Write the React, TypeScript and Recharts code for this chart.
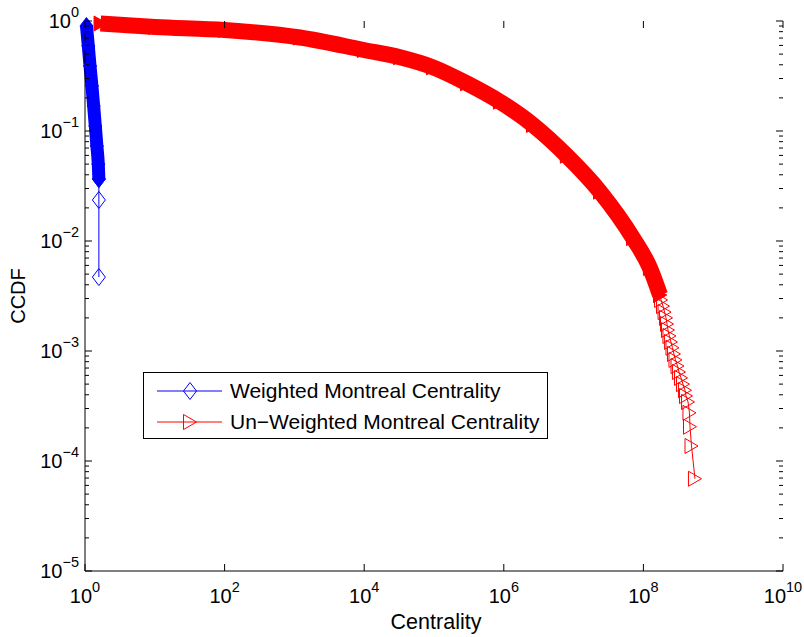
import { LineChart, Line, XAxis, YAxis, Legend } from 'recharts'

// weighted graph: centrality vs CCDF
const weightedCentrality = [1.05, 1.115, 1.18, 1.256, 1.33, 1.405, 1.48, 1.55, 1.58, 1.58, 1.58]
const weightedCcdf = [0.9, 0.593, 0.39, 0.257, 0.169, 0.111, 0.073, 0.05, 0.0366, 0.0236, 0.0047]
const WEIGHTED_BAND_END = 9

// un-weighted graph
const unweightedCentrality = [
  1.67, 10.1, 101, 1200, 9900, 3.26e4, 9.7e4, 2.97e5, 8.8e5, 2.62e6, 8.0e6, 2.39e7, 7.1e7, 1.24e8, 1.73e8,
  1.79e8, 1.91e8, 2.01e8, 2.11e8, 2.18e8, 2.25e8, 2.36e8, 2.48e8, 2.61e8, 2.74e8, 2.88e8, 3.08e8, 3.23e8, 3.46e8,
  3.69e8, 3.94e8, 4.08e8, 4.36e8, 4.57e8, 4.65e8, 4.89e8, 5.48e8,
]
const unweightedCcdf = [
  0.949, 0.882, 0.828, 0.708, 0.545, 0.468, 0.379, 0.271, 0.1846, 0.1135, 0.0596, 0.0281, 0.01064, 5.69e-3, 3.23e-3,
  2.91e-3, 2.56e-3, 2.26e-3, 2.0e-3, 1.76e-3, 1.55e-3, 1.37e-3, 1.21e-3, 1.07e-3, 9.4e-4, 8.3e-4, 7.3e-4, 6.45e-4,
  5.7e-4, 5.0e-4, 4.4e-4, 3.9e-4, 3.44e-4, 2.74e-4, 2.05e-4, 1.37e-4, 6.9e-5,
]
const UNWEIGHTED_BAND_END = 15

const xTicks = [1, 1e2, 1e4, 1e6, 1e8, 1e10]
const yMajorTicks = [1e-5, 1e-4, 1e-3, 1e-2, 1e-1, 1]
const yMinorSteps = [2, 3, 4, 5, 6, 7, 8, 9]
const yTicks = [
  ...yMajorTicks,
  ...yMajorTicks.slice(0, -1).flatMap((d) => yMinorSteps.map((m) => m * d)),
].sort((a, b) => a - b)

const legendLabels = ['Weighted Montreal Centrality', 'Un\u2212Weighted Montreal Centrality']

const W = 804
const H = 637
const LEFT = 85
const RIGHT = 783
const TOP = 21
const BOTTOM = 571
const FONT = '"Liberation Sans", Arial, Helvetica, sans-serif'
const BLUE = '#0000ff'
const RED = '#ff0000'

const toPoints = (xs: number[], ys: number[]) => xs.map((x, i) => ({ x, y: ys[i] }))

const weightedBand = toPoints(weightedCentrality, weightedCcdf).slice(0, WEIGHTED_BAND_END)
const weightedTail = toPoints(weightedCentrality, weightedCcdf).slice(WEIGHTED_BAND_END - 1)
const unweightedBand = toPoints(unweightedCentrality, unweightedCcdf).slice(0, UNWEIGHTED_BAND_END)
const unweightedTail = toPoints(unweightedCentrality, unweightedCcdf).slice(UNWEIGHTED_BAND_END - 1)

const Diamond = ({ cx, cy, color, filled }: any) => (
  <polygon
    points={`${cx},${cy - 8.5} ${cx + 6.5},${cy} ${cx},${cy + 8.5} ${cx - 6.5},${cy}`}
    fill={filled ? color : 'none'}
    stroke={color}
    strokeWidth={1}
  />
)

const Triangle = ({ cx, cy, color, filled }: any) => (
  <polygon
    points={`${cx - 6.5},${cy - 7.5} ${cx + 6.5},${cy} ${cx - 6.5},${cy + 7.5}`}
    fill={filled ? color : 'none'}
    stroke={color}
    strokeWidth={1}
  />
)

const expLabel = (v: number) => {
  const e = Math.round(Math.log10(v))
  return e < 0 ? `\u2212${-e}` : String(e)
}

const XTick = ({ x, payload }: any) => (
  <g>
    <line x1={x} x2={x} y1={BOTTOM} y2={BOTTOM - 7} stroke="#000" />
    <line x1={x} x2={x} y1={TOP} y2={TOP + 7} stroke="#000" />
    <text x={x} y={BOTTOM + 32} textAnchor="middle" fontSize={20} fontFamily={FONT} fill="#000">
      10
      <tspan dy={-11} fontSize={14.5}>
        {expLabel(payload.value)}
      </tspan>
    </text>
  </g>
)

const YTick = ({ y, payload }: any) => {
  const major = yMajorTicks.includes(payload.value)
  const len = major ? 7 : 4
  return (
    <g>
      <line x1={LEFT} x2={LEFT + len} y1={y} y2={y} stroke="#000" />
      <line x1={RIGHT - len} x2={RIGHT} y1={y} y2={y} stroke="#000" />
      {major && (
        <text x={LEFT - 6} y={y + 6.5} textAnchor="end" fontSize={20} fontFamily={FONT} fill="#000">
          10
          <tspan dy={-11} fontSize={14.5}>
            {expLabel(payload.value)}
          </tspan>
        </text>
      )}
    </g>
  )
}

const renderLegend = () => (
  <svg width={405} height={67} style={{ display: 'block' }}>
    <rect x={0.5} y={0.5} width={404} height={66} fill="#fff" stroke="#000" />
    {legendLabels.map((label, i) => {
      const cy = 19 + i * 31
      const color = i === 0 ? BLUE : RED
      return (
        <g key={label}>
          <line x1={14} x2={79} y1={cy} y2={cy} stroke={color} strokeWidth={1} />
          {i === 0 ? <Diamond cx={47} cy={cy} color={color} /> : <Triangle cx={47} cy={cy} color={color} />}
          <text x={87} y={cy + 7} fontSize={21} fontFamily={FONT} fill="#000">
            {label}
          </text>
        </g>
      )
    })}
  </svg>
)

export default function App() {
  return (
    <div style={{ position: 'absolute', left: 0, top: 0, width: W, height: H, background: '#fff' }}>
      <LineChart width={W} height={H} margin={{ top: TOP, right: W - RIGHT, bottom: 0, left: 0 }}>
        <XAxis
          dataKey="x"
          type="number"
          scale="log"
          domain={[1, 1e10]}
          ticks={xTicks}
          interval={0}
          height={H - BOTTOM}
          tickSize={0}
          tickMargin={0}
          tickLine={false}
          axisLine={{ stroke: '#000' }}
          tick={<XTick />}
          label={{
            content: () => (
              <text x={436} y={629} textAnchor="middle" fontSize={21.5} fontFamily={FONT} fill="#000">
                Centrality
              </text>
            ),
          }}
        />
        <XAxis
          xAxisId="top"
          orientation="top"
          type="number"
          scale="log"
          domain={[1, 1e10]}
          height={0}
          tick={false}
          tickLine={false}
          axisLine={{ stroke: '#000' }}
        />
        <YAxis
          type="number"
          scale="log"
          domain={[1e-5, 1]}
          ticks={yTicks}
          interval={0}
          width={LEFT}
          tickSize={0}
          tickMargin={6}
          tickLine={false}
          axisLine={{ stroke: '#000' }}
          tick={<YTick />}
          label={{
            content: () => (
              <text
                x={18}
                y={296}
                transform="rotate(-90 18 296)"
                textAnchor="middle"
                dominantBaseline="central"
                fontSize={20}
                fontFamily={FONT}
                fill="#000"
              >
                CCDF
              </text>
            ),
          }}
        />
        <YAxis
          yAxisId="right"
          orientation="right"
          type="number"
          scale="log"
          domain={[1e-5, 1]}
          width={0}
          tick={false}
          tickLine={false}
          axisLine={{ stroke: '#000' }}
        />
        <Line
          data={weightedBand}
          dataKey="y"
          type="monotone"
          stroke={BLUE}
          strokeWidth={13}
          strokeLinecap="butt"
          strokeLinejoin="round"
          dot={(p: any) => <Diamond key={`wb${p.index}`} cx={p.cx} cy={p.cy} color={BLUE} filled />}
          activeDot={false}
          legendType="none"
          isAnimationActive={false}
        />
        <Line
          data={weightedTail}
          dataKey="y"
          type="linear"
          stroke={BLUE}
          strokeWidth={1}
          dot={(p: any) => <Diamond key={`wt${p.index}`} cx={p.cx} cy={p.cy} color={BLUE} />}
          activeDot={false}
          isAnimationActive={false}
        />
        <Line
          data={unweightedBand}
          dataKey="y"
          type="monotone"
          stroke={RED}
          strokeWidth={16}
          strokeLinecap="butt"
          strokeLinejoin="round"
          dot={(p: any) => <Triangle key={`ub${p.index}`} cx={p.cx} cy={p.cy} color={RED} filled />}
          activeDot={false}
          legendType="none"
          isAnimationActive={false}
        />
        <Line
          data={unweightedTail}
          dataKey="y"
          type="linear"
          stroke={RED}
          strokeWidth={1}
          dot={(p: any) => <Triangle key={`ut${p.index}`} cx={p.cx} cy={p.cy} color={RED} />}
          activeDot={false}
          isAnimationActive={false}
        />
        <Legend
          layout="vertical"
          align="center"
          verticalAlign="middle"
          content={renderLegend}
          wrapperStyle={{ left: 143, top: 372, width: 405, height: 67 }}
        />
      </LineChart>
    </div>
  )
}
